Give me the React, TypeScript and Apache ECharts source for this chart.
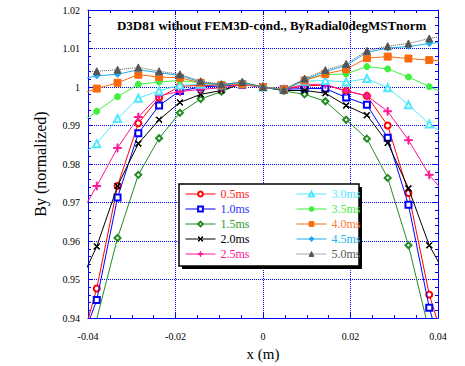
import React, { useEffect, useRef } from "react";
import * as echarts from "echarts";

const xPositions = [
  -0.04275, -0.038, -0.03325, -0.0285, -0.02375, -0.019, -0.01425, -0.0095, -0.00475, 0,
  0.00475, 0.0095, 0.01425, 0.019, 0.02375, 0.0285, 0.03325, 0.038, 0.04275,
];

const seriesNames = ["0.5ms", "1.0ms", "1.5ms", "2.0ms", "2.5ms", "3.0ms", "3.5ms", "4.0ms", "4.5ms", "5.0ms"];

const v05 = [0.9285, 0.9477, 0.9743, 0.9906, 0.9972, 1.0002, 1.0004, 1.0005, 1.0008, 1.0, 0.9994, 1.0003, 1.0005, 0.999, 0.9977, 0.99, 0.9725, 0.9461, 0.9287];
const v10 = [0.93, 0.9447, 0.9713, 0.988, 0.9952, 0.999, 1.0, 1.0003, 1.0006, 1.0, 0.9994, 0.9996, 0.9996, 0.9973, 0.9954, 0.9868, 0.9694, 0.9427, 0.9237];
const v15 = [0.918, 0.9398, 0.9608, 0.9772, 0.9867, 0.9933, 0.9969, 0.9988, 1.0011, 1.0, 0.999, 0.9981, 0.9963, 0.9915, 0.9866, 0.9764, 0.9589, 0.9365, 0.915];
const v20 = [0.947, 0.9586, 0.9743, 0.9853, 0.9915, 0.996, 0.9981, 0.9991, 1.0009, 1.0, 0.9991, 0.9991, 0.9984, 0.9952, 0.9927, 0.9855, 0.9737, 0.9589, 0.9491];
const v25 = [0.965, 0.9743, 0.9842, 0.9922, 0.9978, 0.9988, 0.9994, 0.9998, 1.0006, 1.0, 0.9994, 1.0007, 1.0007, 0.999, 0.9977, 0.9937, 0.9862, 0.9772, 0.9708];
const v30 = [0.9813, 0.9853, 0.9918, 0.9971, 0.999, 1.0005, 1.0007, 1.0005, 1.0009, 1.0, 0.9994, 1.0015, 1.0017, 1.0013, 1.0022, 0.9998, 0.9954, 0.9904, 0.9866];
const v35 = [0.9897, 0.9937, 0.9975, 1.0007, 1.0013, 1.0017, 1.0011, 1.0007, 1.0011, 1.0, 0.9994, 1.0019, 1.0032, 1.0034, 1.0053, 1.0047, 1.0026, 1.0001, 0.9977];
const v40 = [0.9978, 0.9996, 1.0011, 1.0032, 1.0026, 1.0024, 1.0011, 1.0005, 1.0007, 1.0, 0.9994, 1.0017, 1.0034, 1.0046, 1.0075, 1.0079, 1.0074, 1.007, 1.0066];
const v45 = [1.0018, 1.0029, 1.0033, 1.0045, 1.0037, 1.003, 1.0013, 1.0006, 1.0012, 1.0, 0.9992, 1.0019, 1.004, 1.0056, 1.009, 1.0101, 1.0105, 1.0113, 1.0119];
const v50 = [1.0036, 1.0041, 1.0045, 1.0051, 1.0041, 1.0033, 1.0015, 1.0007, 1.0013, 1.0, 0.9992, 1.0022, 1.0044, 1.006, 1.0094, 1.0106, 1.0113, 1.0126, 1.0136];

const allValues = [v05, v10, v15, v20, v25, v30, v35, v40, v45, v50];

const colors = ["#ff0000", "#0000ff", "#228b22", "#000000", "#ff1493", "#4ee8ff", "#3cf03c", "#f96a0f", "#1eaaf0", "#555555"];
const textColors = ["#ff2020", "#3030ff", "#2e9a2e", "#000000", "#ff1493", "#55e8ff", "#44ee44", "#ff7a30", "#22b0f0", "#555555"];

const X_PATH = "path://M0,1L1,0L5,4L9,0L10,1L6,5L10,9L9,10L5,6L1,10L0,9L4,5Z";
const PLUS_PATH = "path://M4.4,0H5.6V4.4H10V5.6H5.6V10H4.4V5.6H0V4.4H4.4Z";
const symbols = ["emptyCircle", "emptyRect", "emptyDiamond", X_PATH, PLUS_PATH, "emptyTriangle", "circle", "rect", "diamond", "triangle"];
const symbolSizes = [6, 6, 6, 6, 8, 7, 6, 7, 6, 7];

const FONT = "Liberation Serif, DejaVu Serif, serif";
const TITLE = "D3D81 without FEM3D-cond., ByRadial0degMSTnorm";

export default function App() {
  const ref = useRef<HTMLDivElement>(null);
  useEffect(() => {
    if (!ref.current) return;
    const chart = echarts.init(ref.current, undefined, { renderer: "svg" });
    const axisBlue = "#0000ff";
    const baseX = {
      type: "value",
      min: -0.04,
      max: 0.04,
      interval: 0.02,
      axisLine: { show: true, onZero: false, lineStyle: { color: axisBlue, width: 1 } },
      axisTick: { show: true, inside: true, length: 5, lineStyle: { color: axisBlue } },
      minorTick: { show: true, splitNumber: 4, length: 3, lineStyle: { color: axisBlue } },
    };
    const baseY = {
      type: "value",
      min: 0.94,
      max: 1.02,
      interval: 0.01,
      axisLine: { show: true, onZero: false, lineStyle: { color: axisBlue, width: 1 } },
      axisTick: { show: true, inside: true, length: 5, lineStyle: { color: axisBlue } },
      minorTick: { show: true, splitNumber: 5, length: 3, lineStyle: { color: axisBlue } },
    };
    const series = seriesNames.map((name, k) => ({
      name,
      type: "line",
      xAxisIndex: 0,
      yAxisIndex: 0,
      data: xPositions.map((x, i) => [x, allValues[k][i]]),
      symbol: symbols[k],
      symbolSize: symbolSizes[k],
      showAllSymbol: true,
      clip: true,
      color: colors[k],
      lineStyle: { color: colors[k], width: 1, type: k === 9 ? "dotted" : "solid" },
      itemStyle: { color: colors[k], borderColor: colors[k], borderWidth: 1 },
      emphasis: { disabled: true },
      z: 2 + k * 0.01,
    }));
    const legendCommon = {
      orient: "vertical",
      itemWidth: 30,
      itemHeight: 6,
      itemGap: 3,
      z: 10,
      lineStyle: { width: 1 },
      itemStyle: { borderWidth: 1 },
      textStyle: { fontFamily: FONT, fontSize: 12, padding: [0, 0, 0, 0] },
      selectedMode: false,
      padding: 0,
    };
    chart.setOption({
      animation: false,
      backgroundColor: "#ffffff",
      grid: { left: 88, right: 27, top: 10, bottom: 40 },
      xAxis: [
        {
          ...baseX,
          position: "bottom",
          name: "x (m)",
          nameLocation: "middle",
          nameGap: 20,
          nameTextStyle: { fontFamily: FONT, fontSize: 15, color: "#000" },
          axisLabel: {
            margin: 13,
            fontFamily: FONT,
            fontSize: 10,
            color: "#000",
            formatter: (v: number) => (Math.abs(v) < 1e-9 ? "0" : v.toFixed(2)),
          },
          splitLine: { show: true, lineStyle: { color: axisBlue, type: "dotted", width: 1 } },
        },
        {
          ...baseX,
          position: "top",
          axisLabel: { show: false },
          splitLine: { show: false },
        },
      ],
      yAxis: [
        {
          ...baseY,
          position: "left",
          name: "By (normalized)",
          nameLocation: "middle",
          nameGap: 40,
          nameTextStyle: { fontFamily: FONT, fontSize: 16, color: "#000" },
          axisLabel: {
            margin: 8,
            fontFamily: FONT,
            fontSize: 10,
            color: "#000",
            formatter: (v: number) => (Math.abs(v - 1) < 1e-9 ? "1" : v.toFixed(2)),
          },
          splitLine: { show: true, lineStyle: { color: axisBlue, type: "dotted", width: 1 } },
        },
        {
          ...baseY,
          position: "right",
          axisLabel: { show: false },
          splitLine: { show: false },
        },
      ],
      legend: [
        {
          ...legendCommon,
          left: 185,
          top: 188,
          data: seriesNames.slice(0, 5).map((n, k) => ({ name: n, textStyle: { color: textColors[k] } })),
        },
        {
          ...legendCommon,
          left: 296,
          top: 188,
          data: seriesNames.slice(5).map((n, k) => ({ name: n, textStyle: { color: textColors[k + 5] } })),
        },
      ],
      graphic: [
        {
          type: "rect",
          z: 8,
          shape: { x: 182, y: 187, width: 180, height: 82 },
          style: { fill: "#000" },
          silent: true,
        },
        {
          type: "rect",
          z: 9,
          shape: { x: 179, y: 184, width: 180, height: 82 },
          style: { fill: "#fff", stroke: "#000", lineWidth: 1.5 },
          silent: true,
        },
        {
          type: "text",
          z: 9,
          x: 271.7,
          y: 25,
          style: {
            text: TITLE,
            fill: "#000",
            font: "bold 13px " + FONT,
            textAlign: "center",
            textVerticalAlign: "middle",
          },
          silent: true,
        },
      ],
      series,
    });
    return () => chart.dispose();
  }, []);
  return <div ref={ref} style={{ position: "fixed", left: 0, top: 0, width: 465, height: 366 }} />;
}
